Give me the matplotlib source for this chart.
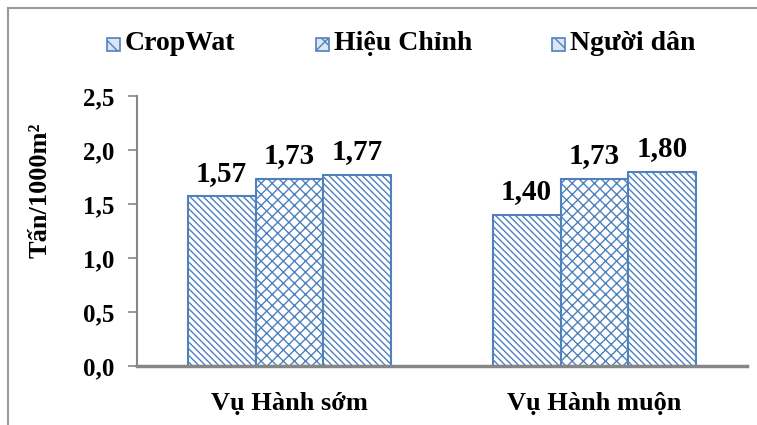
import numpy as np
import matplotlib
matplotlib.use("Agg")
import matplotlib.pyplot as plt
from matplotlib.lines import Line2D
from matplotlib.patches import Rectangle

plt.rcParams['font.family'] = ['Liberation Serif', 'DejaVu Serif']
plt.rcParams['font.weight'] = 'bold'
plt.rcParams['hatch.linewidth'] = 1.0

seasons = ['Vụ Hành sớm', 'Vụ Hành muộn']
series = ['CropWat', 'Hiệu Chỉnh', 'Người dân']
cropwat = [1.57, 1.40]
hieu_chinh = [1.73, 1.73]
nguoi_dan = [1.77, 1.80]
yticks = [0.0, 0.5, 1.0, 1.5, 2.0, 2.5]

blue = '#4F81BD'
grey = '#868686'
hatches = ['\\\\\\\\\\', 'xxx', '\\\\\\\\\\']

W, H = 757, 425
fig = plt.figure(figsize=(W / 100, H / 100), dpi=100)
ax = fig.add_axes([137 / W, 1 - 366 / H, (747 - 137) / W, (366 - 96) / H])

x = np.arange(len(seasons))
w = 0.2226
for i, vals in enumerate([cropwat, hieu_chinh, nguoi_dan]):
    pos = x + (i - 1) * w
    ax.bar(pos, vals, w, color='white', edgecolor=blue, hatch=hatches[i],
           linewidth=1.5, label=series[i])
    for px, v in zip(pos, vals):
        ax.annotate(f"{v:.2f}".replace('.', ','), (px, v), xytext=(0, 7),
                    textcoords='offset points', ha='center', va='bottom',
                    fontsize=21, fontweight='bold')

ax.set_xlim(-0.5, 1.5)
ax.set_ylim(0, 2.5)
ax.set_yticks(yticks)
ax.set_yticklabels([f"{t:.1f}".replace('.', ',') for t in yticks], fontsize=18)
ax.set_xticks(x)
ax.set_xticklabels(seasons, fontsize=19)
ax.tick_params(axis='x', length=0, pad=19)
ax.tick_params(axis='y', length=6.5, width=1.2, color=grey, direction='out', pad=10)
for s in ['top', 'right']:
    ax.spines[s].set_visible(False)
ax.spines['left'].set_color(grey)
ax.spines['left'].set_linewidth(1.5)
ax.spines['bottom'].set_color(grey)
ax.spines['bottom'].set_linewidth(2.5)

fig.text(40 / W, 1 - 190 / H, 'Tấn/1000m²', rotation=90, ha='center',
         va='center', fontsize=19, fontweight='bold')

# legend row: hatched swatch followed by the series name
swatch_x = [107, 316, 552]
for name, hx, sx in zip(series, hatches, swatch_x):
    fig.add_artist(Rectangle((sx / W, 1 - 51 / H), 13 / W, 13 / H,
                             facecolor='#DCE6F2', edgecolor=blue, hatch=hx[:2],
                             linewidth=1.2, transform=fig.transFigure))
    fig.text((sx + 18) / W, 1 - 44 / H, name, ha='left', va='center',
             fontsize=20, fontweight='bold')

# outer chart border, cut off at the right and bottom
fig.add_artist(Line2D([8 / W, 8 / W], [0, 1 - 8 / H], color='#999999',
                      lw=1.5, transform=fig.transFigure))
fig.add_artist(Line2D([8 / W, 1], [1 - 8 / H, 1 - 8 / H], color='#999999',
                      lw=1.5, transform=fig.transFigure))

fig.savefig('out.png', dpi=100)
